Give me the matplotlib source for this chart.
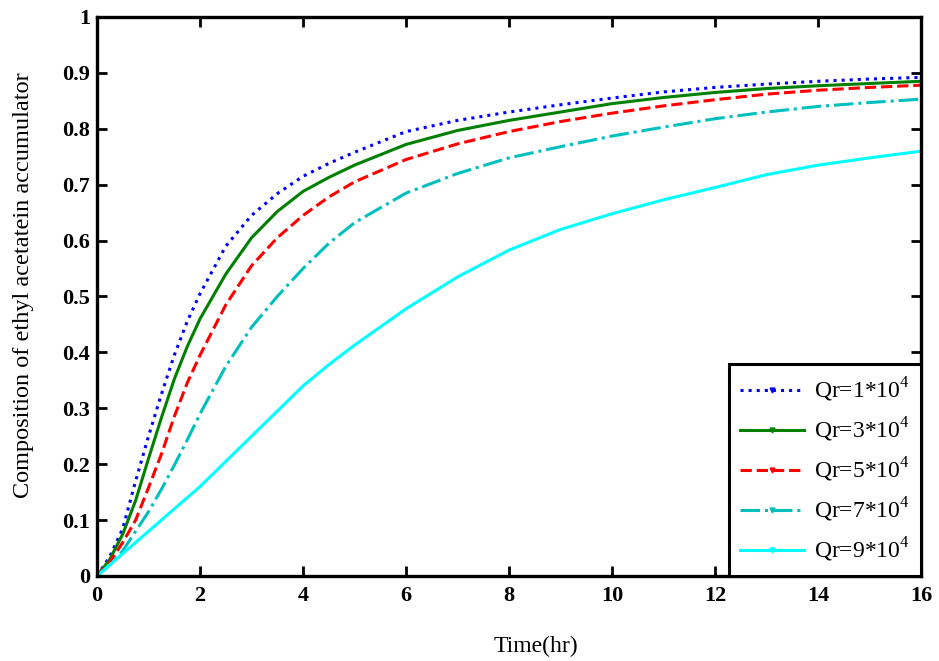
import matplotlib
matplotlib.use('Agg')
import matplotlib.pyplot as plt
from matplotlib.lines import Line2D

# time axis (hr) and accumulator composition for each reflux flow rate
time_hr = [0, 0.25, 0.5, 0.75, 1, 1.25, 1.5, 1.75, 2, 2.5, 3, 3.5, 4, 4.5, 5,
           6, 7, 8, 9, 10, 11, 12, 13, 14, 15, 16]

x_qr1 = [0, 0.035, 0.085, 0.17, 0.25, 0.325, 0.395, 0.455, 0.505, 0.59, 0.645,
         0.684, 0.715, 0.738, 0.758, 0.795, 0.815, 0.83, 0.843, 0.855, 0.866,
         0.874, 0.88, 0.885, 0.889, 0.892]
x_qr3 = [0, 0.03, 0.075, 0.135, 0.21, 0.283, 0.352, 0.41, 0.46, 0.54, 0.605,
         0.652, 0.688, 0.713, 0.735, 0.772, 0.797, 0.815, 0.83, 0.845, 0.856,
         0.865, 0.872, 0.877, 0.881, 0.885]
x_qr5 = [0, 0.025, 0.06, 0.10, 0.158, 0.218, 0.285, 0.345, 0.395, 0.485, 0.555,
         0.605, 0.645, 0.678, 0.705, 0.745, 0.773, 0.795, 0.813, 0.828, 0.841,
         0.852, 0.862, 0.869, 0.874, 0.878]
x_qr7 = [0, 0.02, 0.045, 0.08, 0.115, 0.155, 0.198, 0.243, 0.29, 0.375, 0.445,
         0.50, 0.55, 0.595, 0.632, 0.685, 0.72, 0.748, 0.768, 0.787, 0.803,
         0.818, 0.83, 0.84, 0.847, 0.853]
x_qr9 = [0, 0.02, 0.04, 0.06, 0.08, 0.10, 0.12, 0.14, 0.16, 0.205, 0.25,
         0.295, 0.34, 0.378, 0.413, 0.478, 0.535, 0.583, 0.62, 0.648, 0.673,
         0.695, 0.718, 0.735, 0.748, 0.76]

labels = ['Qr=1*10$^\\mathregular{4}$', 'Qr=3*10$^\\mathregular{4}$',
          'Qr=5*10$^\\mathregular{4}$', 'Qr=7*10$^\\mathregular{4}$',
          'Qr=9*10$^\\mathregular{4}$']
colors = ['#0000ff', '#008000', '#ff0000', '#00bfbf', '#00ffff']
styles = [':', '-', '--', '-.', '-']

xticks = [0, 2, 4, 6, 8, 10, 12, 14, 16]
yticks = [0, 0.1, 0.2, 0.3, 0.4, 0.5, 0.6, 0.7, 0.8, 0.9, 1]
ytick_labels = ['0', '0.1', '0.2', '0.3', '0.4', '0.5', '0.6', '0.7', '0.8', '0.9', '1']

plt.rcParams['font.family'] = ['Liberation Serif', 'DejaVu Serif']

fig = plt.figure(figsize=(9.39, 6.61), dpi=100)
ax = fig.add_axes([0.1033, 0.1286, 0.8777, 0.8457])

series = [x_qr1, x_qr3, x_qr5, x_qr7, x_qr9]
handles = []
for ys, c, ls, lab in zip(series, colors, styles, labels):
    ax.plot(time_hr, ys, color=c, linestyle=ls, linewidth=2.2)
    handles.append(Line2D([], [], color=c, linestyle=ls, linewidth=2.2,
                          marker='v', markersize=3.5, label=lab))

ax.set_xlim(0, 16)
ax.set_ylim(0, 1)
ax.set_xticks(xticks)
ax.set_xticklabels([str(t) for t in xticks])
ax.set_yticks(yticks)
ax.set_yticklabels(ytick_labels)
ax.tick_params(direction='in', length=7, width=2, top=True, right=True,
               labelsize=16)
ax.tick_params(axis='x', pad=7)
ax.tick_params(axis='y', pad=5)
for lbl in ax.get_xticklabels() + ax.get_yticklabels():
    lbl.set_fontweight('bold')
for sp in ax.spines.values():
    sp.set_linewidth(2.4)

ax.set_xlabel('Time(hr)', fontsize=17)
ax.xaxis.set_label_coords(0.532, -0.108)
ax.set_ylabel('Composition of ethyl acetatein accumulator', fontsize=17.5)
ax.yaxis.set_label_coords(-0.077, 0.52)

leg = ax.legend(handles=handles, loc='lower right', borderaxespad=0,
                fontsize=17, handlelength=2.7, labelspacing=0.5,
                fancybox=False, framealpha=1, numpoints=1,
                borderpad=0.5, handletextpad=0.4)
leg.get_frame().set_edgecolor('black')
leg.get_frame().set_linewidth(2.2)

fig.savefig('out.png', dpi=100)
